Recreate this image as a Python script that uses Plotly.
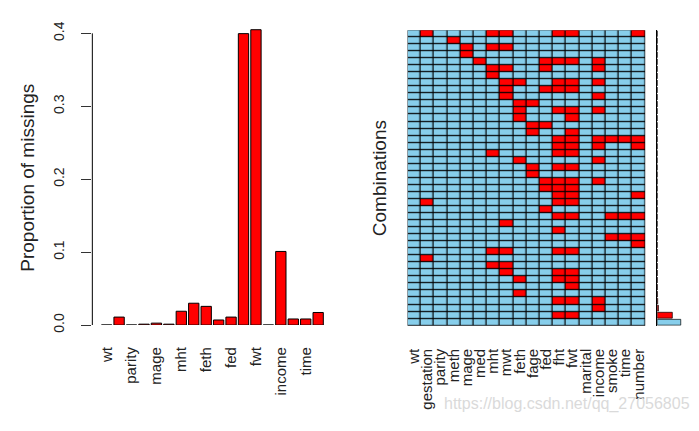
import plotly.graph_objects as go

# ── Datos ────────────────────────────────────────────────────────────
variables = ["wt", "gestation", "parity", "meth", "mage", "med", "mht", "mwt",
             "feth", "fage", "fed", "fht", "fwt", "marital", "income",
             "smoke", "time", "number"]

prop_missing = [0.0, 0.011, 0.0, 0.0013, 0.0027, 0.0013, 0.019, 0.030,
                0.0257, 0.007, 0.011, 0.3996, 0.405, 0.0, 0.101,
                0.0084, 0.0084, 0.0173]

# combinaciones de arriba a abajo (variables faltantes en cada patrón)
combinations = [
    ["gestation", "mht", "mwt", "fht", "fwt", "number"],
    ["meth"],
    ["mage", "mht", "mwt"],
    ["mage"],
    ["med", "fed", "fht", "fwt", "income"],
    ["mht", "mwt", "fed", "income"],
    ["mht"],
    ["mwt", "feth", "fht", "fwt", "income"],
    ["mwt", "fed", "fht", "fwt"],
    ["mwt", "income"],
    ["feth", "fage"],
    ["feth", "fht", "fwt", "income"],
    ["feth", "fwt"],
    ["fage", "fed"],
    ["fage", "fwt"],
    ["fht", "fwt", "income", "smoke", "time", "number"],
    ["fht", "fwt", "income", "number"],
    ["mht", "fht", "fwt"],
    ["feth", "income"],
    ["fage", "fht", "fwt"],
    ["fage"],
    ["fed", "fht", "fwt", "income"],
    ["fed", "fht", "fwt"],
    ["fht", "fwt", "number"],
    ["gestation", "fht", "fwt"],
    ["fed"],
    ["fht", "fwt", "smoke", "time", "number"],
    ["mwt"],
    ["fht"],
    ["smoke", "time", "number"],
    ["number"],
    ["mht", "mwt", "fht", "fwt"],
    ["gestation"],
    ["mht", "mwt"],
    ["mwt", "fht", "fwt"],
    ["feth", "fht", "fwt"],
    ["fwt"],
    ["feth"],
    ["fht", "fwt", "income"],
    ["income"],
    ["fht", "fwt"],
    [],
]

comb_freq = [0.0008] * 30 + [0.0016, 0.0016, 0.0024, 0.0024, 0.003, 0.003,
                             0.004, 0.006, 0.012, 0.03, 0.36, 0.56]

RED = "#FF0000"
BLUE = "#87CEEB"
FONT = "Liberation Sans, Arial, sans-serif"
OFF = 8                      # margen por defecto del <body>
W, H = 699 - OFF, 431 - OFF


def px_x(p):
    return (p - OFF) / W


def px_y(p):
    return 1 - (p - OFF) / H


# ── Figura ───────────────────────────────────────────────────────────
fig = go.Figure()

# Proporción de faltantes
idx = list(range(len(variables)))
fig.add_trace(go.Bar(
    x=idx, y=prop_missing,
    marker=dict(color=RED, line=dict(color="black", width=1)),
    xaxis="x", yaxis="y", showlegend=False,
))
# barras con valor 0: R las dibuja como una raya
zx, zy = [], []
for i, v in zip(idx, prop_missing):
    if v == 0:
        zx += [i - 0.42, i + 0.42, None]
        zy += [0, 0, None]
fig.add_trace(go.Scatter(
    x=zx, y=zy, mode="lines", line=dict(color="#333", width=1),
    xaxis="x", yaxis="y", showlegend=False, hoverinfo="skip",
))

# Matriz de combinaciones
z = [[1 if v in comb else 0 for v in variables] for comb in combinations]
fig.add_trace(go.Heatmap(
    z=z, x=idx, y=list(range(len(combinations))),
    colorscale=[[0, BLUE], [1, RED]], zmin=0, zmax=1,
    xgap=1.2, ygap=1.2, showscale=False, hoverinfo="skip",
    xaxis="x2", yaxis="y2",
))

# Frecuencia de combinaciones
bar_colors = [BLUE if len(c) == 0 else RED for c in combinations]
fig.add_trace(go.Bar(
    x=comb_freq, y=list(range(len(combinations))), orientation="h",
    marker=dict(color=bar_colors, line=dict(color="black", width=0.7)),
    xaxis="x3", yaxis="y3", showlegend=False,
))

fig.update_layout(
    width=W, height=H,
    margin=dict(l=0, r=0, t=0, b=0),
    paper_bgcolor="white", plot_bgcolor="white",
    font=dict(family=FONT, size=15, color="#222"),
    bargap=0.17,
    xaxis=dict(
        domain=[px_x(90.7), px_x(330)], range=[-1.15, 18.0],
        tickvals=list(range(0, len(variables), 2)),
        ticktext=variables[::2], tickangle=-90,
        ticks="", showline=False, showgrid=False, zeroline=False,
        ticklabelstandoff=18, tickfont=dict(size=15),
    ),
    yaxis=dict(
        domain=[px_y(330), px_y(22)], range=[0, 0.4093],
        tickvals=[0, 0.1, 0.2, 0.3, 0.4], tickformat=".1f",
        tickangle=-90, ticks="outside", ticklen=10, tickcolor="#333",
        showline=False, showgrid=False, zeroline=False,
        ticklabelstandoff=12, tickfont=dict(size=14),
    ),
    xaxis2=dict(
        domain=[px_x(407.3), px_x(646)], range=[-0.5, 17.5],
        tickvals=idx, ticktext=variables,
        tickangle=-90, ticks="", showgrid=False, zeroline=False,
        ticklabelstandoff=19, tickfont=dict(size=15), anchor="y2",
    ),
    yaxis2=dict(
        domain=[px_y(330.7), px_y(25.7)], range=[41.5, -0.5],
        showticklabels=False, ticks="", showgrid=False, zeroline=False,
        anchor="x2",
    ),
    xaxis3=dict(
        domain=[px_x(658), 1.0], range=[0, 0.97], visible=False,
        anchor="y3",
    ),
    yaxis3=dict(
        domain=[px_y(330.7), px_y(25.7)], range=[41.5, -0.5],
        showticklabels=False, ticks="", showgrid=False, zeroline=False,
        showline=True, linecolor="black", linewidth=1, anchor="x3",
    ),
)

# fondo negro para las líneas de la matriz
fig.add_shape(type="rect", xref="x2", yref="y2",
              x0=-0.55, x1=17.55, y0=-0.55, y1=41.55,
              fillcolor="black", line=dict(width=0), layer="below")
# eje y izquierdo solo de 0 a 0.4 (estilo R)
fig.add_shape(type="line", xref="paper", yref="y",
              x0=px_x(90.7), x1=px_x(90.7), y0=0, y1=0.4,
              line=dict(color="black", width=1))

fig.add_annotation(text="Proportion of missings", textangle=-90,
                   x=px_x(26), y=px_y(178), xref="paper", yref="paper",
                   xanchor="center", yanchor="middle",
                   showarrow=False, font=dict(size=19, color="#222"))
fig.add_annotation(text="Combinations", textangle=-90,
                   x=px_x(379), y=px_y(178), xref="paper", yref="paper",
                   xanchor="center", yanchor="middle",
                   showarrow=False, font=dict(size=19, color="#222"))
fig.add_annotation(text="https://blog.csdn.net/qq_27056805",
                   x=px_x(567), y=px_y(411), xref="paper", yref="paper",
                   xanchor="center", yanchor="middle",
                   showarrow=False, font=dict(size=16, color="#dadada"))

fig.write_html("out.html")
